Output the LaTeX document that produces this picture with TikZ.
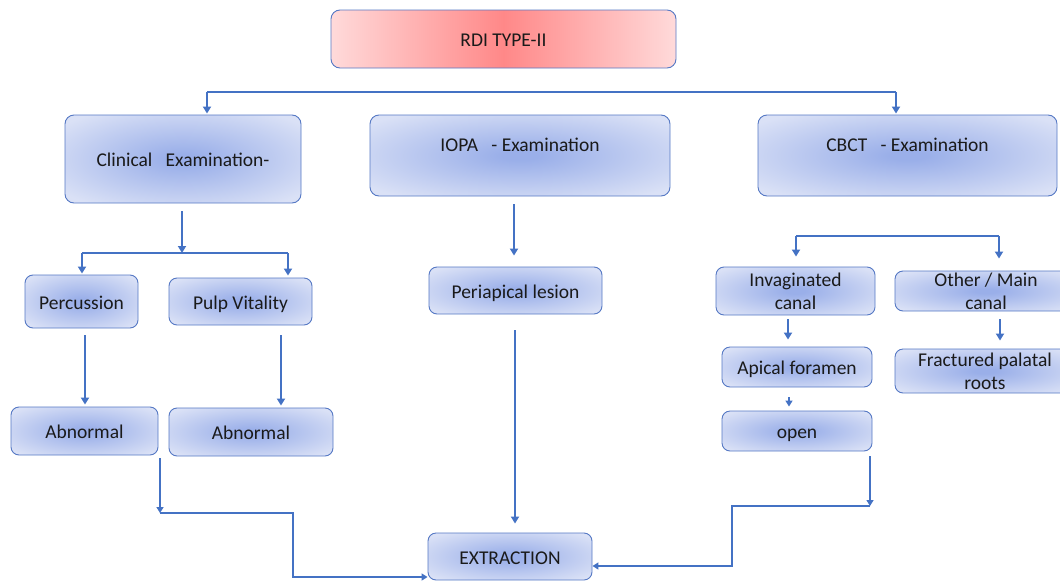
\documentclass[tikz,border=0pt]{standalone}
\usepackage{fontspec}
\setmainfont{Carlito}
\usetikzlibrary{arrows.meta}
\definecolor{lineblue}{HTML}{4472C4}
\definecolor{edgeblue}{HTML}{5578C4}
\definecolor{bluec}{HTML}{9AAFE9}
\definecolor{bluee}{HTML}{DAE1F6}
\definecolor{redc}{HTML}{FF8888}
\definecolor{rede}{HTML}{FFDADA}
\definecolor{txt}{HTML}{1A1A1A}
\pgfdeclareradialshading{bluerad}{\pgfpointorigin}{color(0bp)=(bluec); color(3bp)=(bluec); color(32bp)=(bluee); color(50bp)=(bluee)}
\pgfdeclarehorizontalshading{redh}{100bp}{color(0bp)=(rede); color(25bp)=(rede); color(50bp)=(redc); color(75bp)=(rede); color(100bp)=(rede)}
\tikzset{
  box/.style={draw=edgeblue, line width=0.9pt, rounded corners=9pt, shading=bluerad,
    inner sep=0pt, align=center, text=txt, font=\fontsize{19.5}{23}\selectfont},
  one/.style={text height=17pt, text depth=2pt},
  redbox/.style={box, shading=redh},
  ln/.style={draw=lineblue, line width=2.6pt},
  arr/.style={draw=lineblue, line width=2.6pt, -{Triangle[width=8pt,length=7pt]}},
  thinarr/.style={draw=lineblue, line width=2.2pt, -{Triangle[width=7pt,length=6pt]}}
}
\begin{document}
\begin{tikzpicture}[x=1pt,y=-1pt]
\useasboundingbox (0,0) rectangle (1060,581);
\clip (0,0) rectangle (1060,581);
% boxes
\node[redbox, one, minimum width=345pt, minimum height=58pt] (rdi) at (503.5,39) {RDI TYPE-II};
\node[box, one, minimum width=236pt, minimum height=88pt] (clin) at (183,159) {Clinical\ \ \ Examination-};
\node[box, minimum width=300pt, minimum height=81pt, text height=13.5pt, text depth=21pt] (iopa) at (520,155.5) {IOPA\ \ \ - Examination};
\node[box, minimum width=299pt, minimum height=81pt, text height=13.5pt, text depth=21pt] (cbct) at (907.5,155.5) {CBCT\ \ \ - Examination};
\node[box, one, rounded corners=8pt, minimum width=113pt, minimum height=53pt] (perc) at (81.5,301.5) {Percussion};
\node[box, one, rounded corners=8pt, minimum width=143pt, minimum height=47pt] (pulp) at (240.5,301.5) {Pulp Vitality};
\node[box, one, rounded corners=8pt, minimum width=147pt, minimum height=48pt] (abn1) at (84.5,431) {Abnormal};
\node[box, one, rounded corners=8pt, minimum width=164pt, minimum height=48pt] (abn2) at (251,432) {Abnormal};
\node[box, one, rounded corners=8pt, minimum width=173pt, minimum height=47pt] (peri) at (515.5,290.5) {Periapical lesion};
\node[box, one, rounded corners=8pt, minimum width=164pt, minimum height=47pt] (ext) at (510,556.5) {EXTRACTION};
\node[box, rounded corners=8pt, minimum width=159pt, minimum height=48pt] (inv) at (795.5,291) {Invaginated\\canal};
\node[box, rounded corners=8pt, minimum width=182pt, minimum height=40pt] (oth) at (986,291) {Other / Main\\canal};
\node[box, one, rounded corners=8pt, minimum width=150pt, minimum height=40pt] (api) at (797,367) {Apical foramen};
\node[box, one, rounded corners=8pt, minimum width=150pt, minimum height=40pt] (open) at (797,431) {open};
\node[box, rounded corners=8pt, minimum width=180pt, minimum height=44pt] (frac) at (985,371) {Fractured palatal\\roots};
% junction coordinates
\coordinate (topL) at (207,92);
\coordinate (topR) at (896,92);
\coordinate (cjL) at (82,253);
\coordinate (cjR) at (288,253);
\coordinate (rjL) at (796,236);
\coordinate (rjR) at (999,236);
\coordinate (lk) at (160,513);
\coordinate (rk) at (870,506);
% top branch
\draw[ln] (topL) -- (topR);
\draw[arr, shorten >=1pt] (topL) -- (topL |- clin.north);
\draw[arr, shorten >=1pt] (topR) -- (topR |- cbct.north);
% clinical branch
\draw[arr, shorten <=8pt] (182,0 |- clin.south) -- (182,0 |- cjL);
\draw[ln] (cjL) -- (cjR);
\draw[arr, shorten >=1pt] (cjL) -- (cjL |- perc.north);
\draw[arr, shorten >=2pt] (cjR) -- (cjR |- pulp.north);
\draw[arr, shorten <=7pt, shorten >=2pt] (85,0 |- perc.south) -- (85,0 |- abn1.north);
\draw[arr, shorten <=10pt, shorten >=2pt] (281,0 |- pulp.south) -- (281,0 |- abn2.north);
% IOPA branch
\draw[arr, shorten <=8pt, shorten >=11pt] (514,0 |- iopa.south) -- (514,0 |- peri.north);
\draw[arr, shorten <=16pt, shorten >=9pt] (515,0 |- peri.south) -- (515,0 |- ext.north);
% to extraction
\draw[thinarr, shorten <=3pt] (lk |- abn1.south) -- (lk);
\draw[thinarr] (lk) -- (293,513) -- (293,577) -- (ext.west |- 0,577);
\draw[thinarr, shorten <=5pt] (rk |- open.south) -- (rk);
\draw[thinarr] (rk) -- (732,506) -- (732,566) -- (ext.east |- 0,566);
% CBCT branch
\draw[ln] (rjL) -- (rjR);
\draw[arr, shorten >=10pt] (rjL) -- (rjL |- inv.north);
\draw[arr, shorten >=12pt] (rjR) -- (rjR |- oth.north);
\draw[arr, shorten <=4pt, shorten >=7pt] (788,0 |- inv.south) -- (788,0 |- api.north);
\draw[thinarr, shorten <=10pt, shorten >=4pt] (789,0 |- api.south) -- (789,0 |- open.north);
\draw[arr, shorten <=8pt, shorten >=8pt] (1000,0 |- oth.south) -- (1000,0 |- frac.north);
\end{tikzpicture}
\end{document}
